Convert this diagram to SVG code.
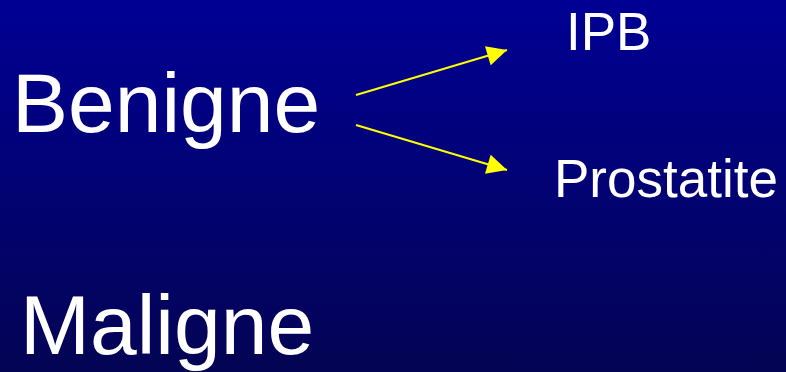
<svg xmlns="http://www.w3.org/2000/svg" width="786" height="372" viewBox="0 0 786 372">
  <defs>
    <linearGradient id="bg" x1="0" y1="0" x2="0" y2="1">
      <stop offset="0" stop-color="#000094"/>
      <stop offset="1" stop-color="#040454"/>
    </linearGradient>
    <marker id="head" viewBox="0 0 10 10" refX="10" refY="5" markerWidth="22" markerHeight="20" markerUnits="userSpaceOnUse" orient="auto">
      <path d="M0,0 L10,5 L0,10 Z" fill="#ffff00"/>
    </marker>
    <style>
      .lbl { font-family: "Liberation Sans", Arial, sans-serif; fill: #ffffff; }
      .big { font-size: 84px; }
      .small { font-size: 53px; }
      .conn { stroke: #ffff00; stroke-width: 2; fill: none; marker-end: url(#head); }
    </style>
  </defs>
  <rect width="786" height="372" fill="url(#bg)"/>
  <g id="benigne"><text class="lbl big" x="12" y="132">Benigne</text></g>
  <g id="maligne"><text class="lbl big" x="20" y="354">Maligne</text></g>
  <g id="ipb"><text class="lbl small" x="566" y="50">IPB</text></g>
  <g id="prostatite"><text class="lbl small" x="554" y="197">Prostatite</text></g>
  <g id="connectors">
    <line class="conn" x1="356" y1="95" x2="507" y2="50"/>
    <line class="conn" x1="356" y1="125" x2="507" y2="170"/>
  </g>
</svg>
